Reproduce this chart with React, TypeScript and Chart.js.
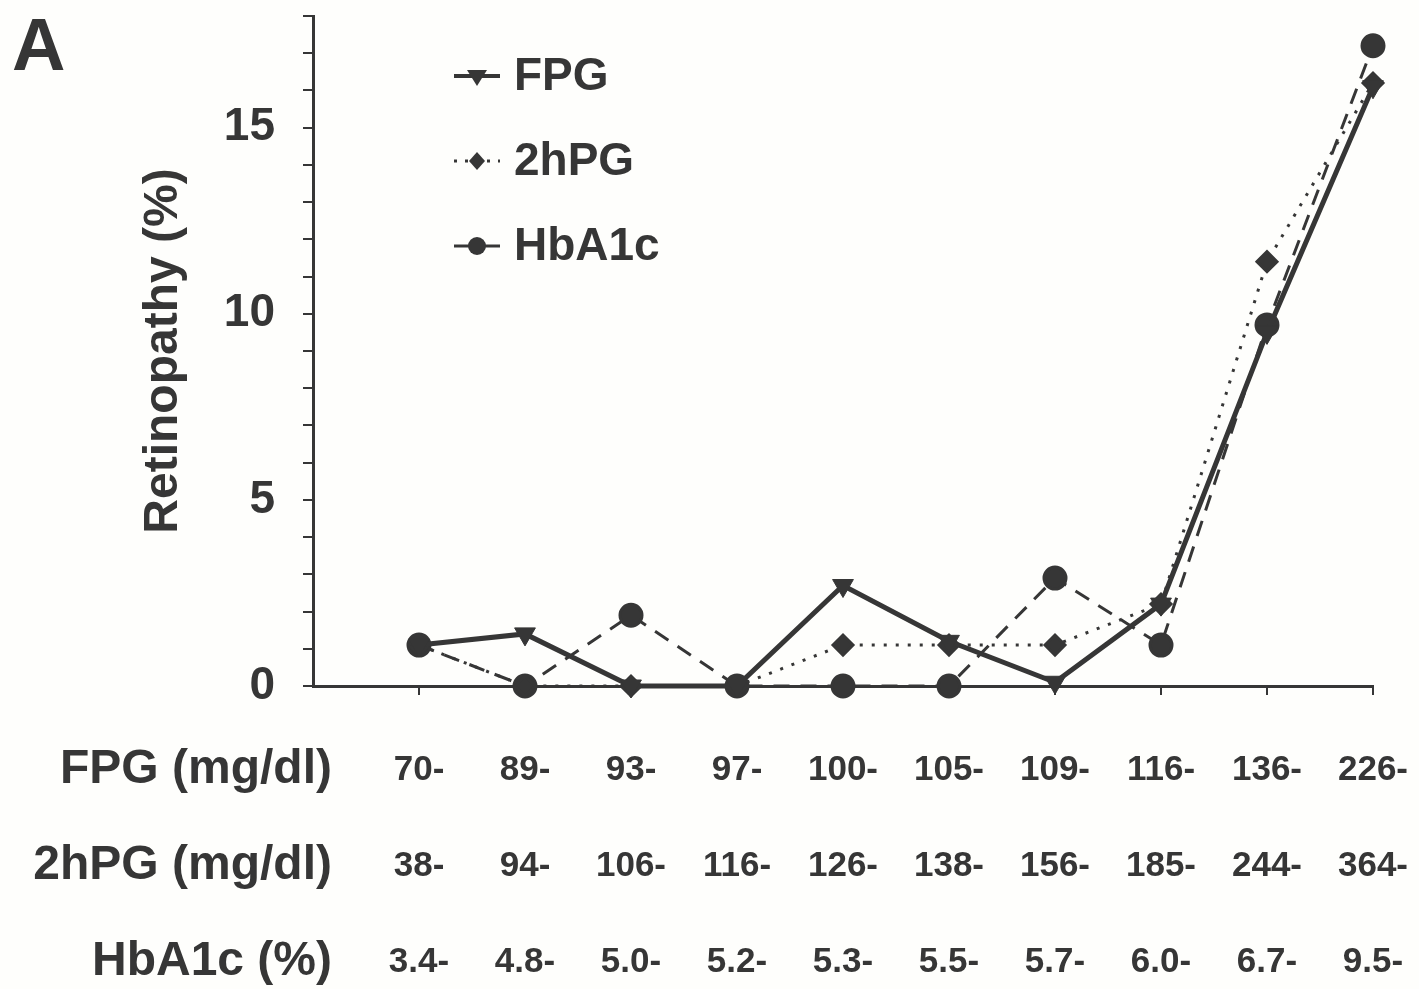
import React, { useEffect, useRef } from 'react';
import { Chart, registerables } from 'chart.js';

Chart.register(...registerables);

const categories = [1, 2, 3, 4, 5, 6, 7, 8, 9, 10];
const fpgLabels = ['70-', '89-', '93-', '97-', '100-', '105-', '109-', '116-', '136-', '226-'];
const hpgLabels = ['38-', '94-', '106-', '116-', '126-', '138-', '156-', '185-', '244-', '364-'];
const hba1cLabels = ['3.4-', '4.8-', '5.0-', '5.2-', '5.3-', '5.5-', '5.7-', '6.0-', '6.7-', '9.5-'];
const rowTitles = ['FPG (mg/dl)', '2hPG (mg/dl)', 'HbA1c (%)'];
const seriesNames = ['FPG', '2hPG', 'HbA1c'];
const fpgValues = [1.1, 1.4, 0, 0, 2.7, 1.2, 0.1, 2.2, 9.5, 16.1];
const hpgValues = [1.1, 0, 0, 0, 1.1, 1.1, 1.1, 2.2, 11.4, 16.2];
const hba1cValues = [1.1, 0, 1.9, 0, 0, 0, 2.9, 1.1, 9.7, 17.2];
const yTickLabels = [0, 5, 10, 15];

const INK = '#363636';
const FONT = '"Liberation Sans", Arial, Helvetica, sans-serif';

const toPoints = (vals: number[]) => categories.map((c, i) => ({ x: c, y: vals[i] }));

const decorPlugin = {
  id: 'decor',
  beforeDraw(chart: any) {
    const ctx = chart.ctx;
    ctx.save();
    ctx.fillStyle = '#fefefc';
    ctx.fillRect(0, 0, chart.width, chart.height);
    ctx.restore();
  },
  afterDraw(chart: any) {
    const ctx = chart.ctx;
    const xs = chart.scales.x;
    ctx.save();
    ctx.fillStyle = INK;
    ctx.font = `bold 74px ${FONT}`;
    ctx.textBaseline = 'alphabetic';
    ctx.textAlign = 'left';
    ctx.fillText('A', 12, 70);

    ctx.font = `bold 48px ${FONT}`;
    ctx.textAlign = 'right';
    ctx.textBaseline = 'middle';
    const firstRow = xs.top + 36 + 48;
    rowTitles.forEach((t, i) => {
      ctx.fillText(t, 332, firstRow + i * 96);
    });

    const rows = [76, 161, 246];
    chart.data.datasets.forEach((ds: any, i: number) => {
      const y = rows[i];
      ctx.strokeStyle = INK;
      ctx.fillStyle = INK;
      ctx.lineWidth = i === 0 ? 4 : 3;
      ctx.setLineDash(i === 1 ? [3, 8] : []);
      ctx.beginPath();
      ctx.moveTo(454, y);
      ctx.lineTo(500, y);
      ctx.stroke();
      ctx.setLineDash([]);
      const cx = 477;
      ctx.beginPath();
      if (i === 0) {
        ctx.moveTo(cx - 10, y - 6);
        ctx.lineTo(cx + 10, y - 6);
        ctx.lineTo(cx, y + 10);
        ctx.closePath();
      } else if (i === 1) {
        ctx.moveTo(cx, y - 9);
        ctx.lineTo(cx + 8, y);
        ctx.lineTo(cx, y + 9);
        ctx.lineTo(cx - 8, y);
        ctx.closePath();
      } else {
        ctx.arc(cx, y, 9, 0, Math.PI * 2);
      }
      ctx.fill();
      ctx.font = `bold 46px ${FONT}`;
      ctx.textAlign = 'left';
      ctx.textBaseline = 'middle';
      ctx.fillText(seriesNames[i], 514, y + 1);
    });
    ctx.restore();
  },
};

export default function App() {
  const canvasRef = useRef<HTMLCanvasElement | null>(null);

  useEffect(() => {
    if (!canvasRef.current) return;
    const chart = new Chart(canvasRef.current, {
      type: 'line',
      data: {
        datasets: [
          {
            label: seriesNames[0],
            data: toPoints(fpgValues),
            borderColor: INK,
            backgroundColor: INK,
            borderWidth: 5,
            pointStyle: 'triangle',
            pointRotation: 180,
            pointRadius: 12,
            pointBorderWidth: 1,
            pointBackgroundColor: INK,
            pointBorderColor: INK,
            clip: false,
            tension: 0,
          },
          {
            label: seriesNames[1],
            data: toPoints(hpgValues),
            borderColor: INK,
            backgroundColor: INK,
            borderWidth: 3,
            borderDash: [3, 9],
            pointStyle: 'rectRot',
            pointRadius: 10,
            pointBackgroundColor: INK,
            pointBorderColor: INK,
            clip: false,
            tension: 0,
          },
          {
            label: seriesNames[2],
            data: toPoints(hba1cValues),
            borderColor: INK,
            backgroundColor: INK,
            borderWidth: 3,
            borderDash: [16, 11],
            pointStyle: 'circle',
            pointRadius: 11,
            pointBackgroundColor: INK,
            pointBorderColor: INK,
            clip: false,
            tension: 0,
          },
        ],
      } as any,
      options: {
        responsive: false,
        animation: false,
        devicePixelRatio: 1,
        layout: { padding: { top: 16, right: 46, bottom: 0, left: 0 } },
        plugins: {
          legend: { display: false },
          tooltip: { enabled: false },
        },
        scales: {
          x: {
            type: 'linear',
            min: 0,
            max: 10,
            border: { display: true, color: INK, width: 3 },
            grid: { drawOnChartArea: false, drawTicks: true, tickLength: 9, color: INK, lineWidth: 2 },
            ticks: {
              autoSkip: false,
              maxRotation: 0,
              padding: 27,
              color: INK,
              font: { family: FONT, size: 35, weight: 'bold', lineHeight: 96 / 35 },
              callback: (v: any) => {
                const i = Number(v) - 1;
                if (i < 0 || i >= categories.length) return '';
                return [fpgLabels[i], hpgLabels[i], hba1cLabels[i]];
              },
            },
            afterBuildTicks: (s: any) => {
              s.ticks = categories.map((v) => ({ value: v }));
            },
            afterFit: (s: any) => {
              s.height = 303;
              s.paddingLeft = 0;
              s.paddingRight = 0;
              s.paddingTop = 0;
              s.paddingBottom = 0;
            },
          },
          y: {
            min: 0,
            max: 18,
            border: { display: true, color: INK, width: 3 },
            grid: { drawOnChartArea: false, drawTicks: true, tickLength: 10, color: INK, lineWidth: 2 },
            ticks: {
              stepSize: 1,
              autoSkip: false,
              padding: 28,
              color: INK,
              font: { family: FONT, size: 46, weight: 'bold' },
              callback: (v: any) => (yTickLabels.includes(Number(v)) ? String(v) : ''),
            },
            title: {
              display: true,
              text: 'Retinopathy (%)',
              color: INK,
              font: { family: FONT, size: 48, weight: 'bold' },
              padding: { top: 135, bottom: 0 },
            },
            afterFit: (s: any) => {
              s.width = 313;
              s.paddingTop = 0;
              s.paddingBottom = 0;
              s.paddingLeft = 0;
              s.paddingRight = 0;
            },
          },
        },
      } as any,
      plugins: [decorPlugin],
    });
    return () => chart.destroy();
  }, []);

  return (
    <div style={{ position: 'fixed', left: 0, top: 0, width: 1419, height: 989 }}>
      <canvas ref={canvasRef} width={1419} height={989} style={{ display: 'block' }} />
    </div>
  );
}
